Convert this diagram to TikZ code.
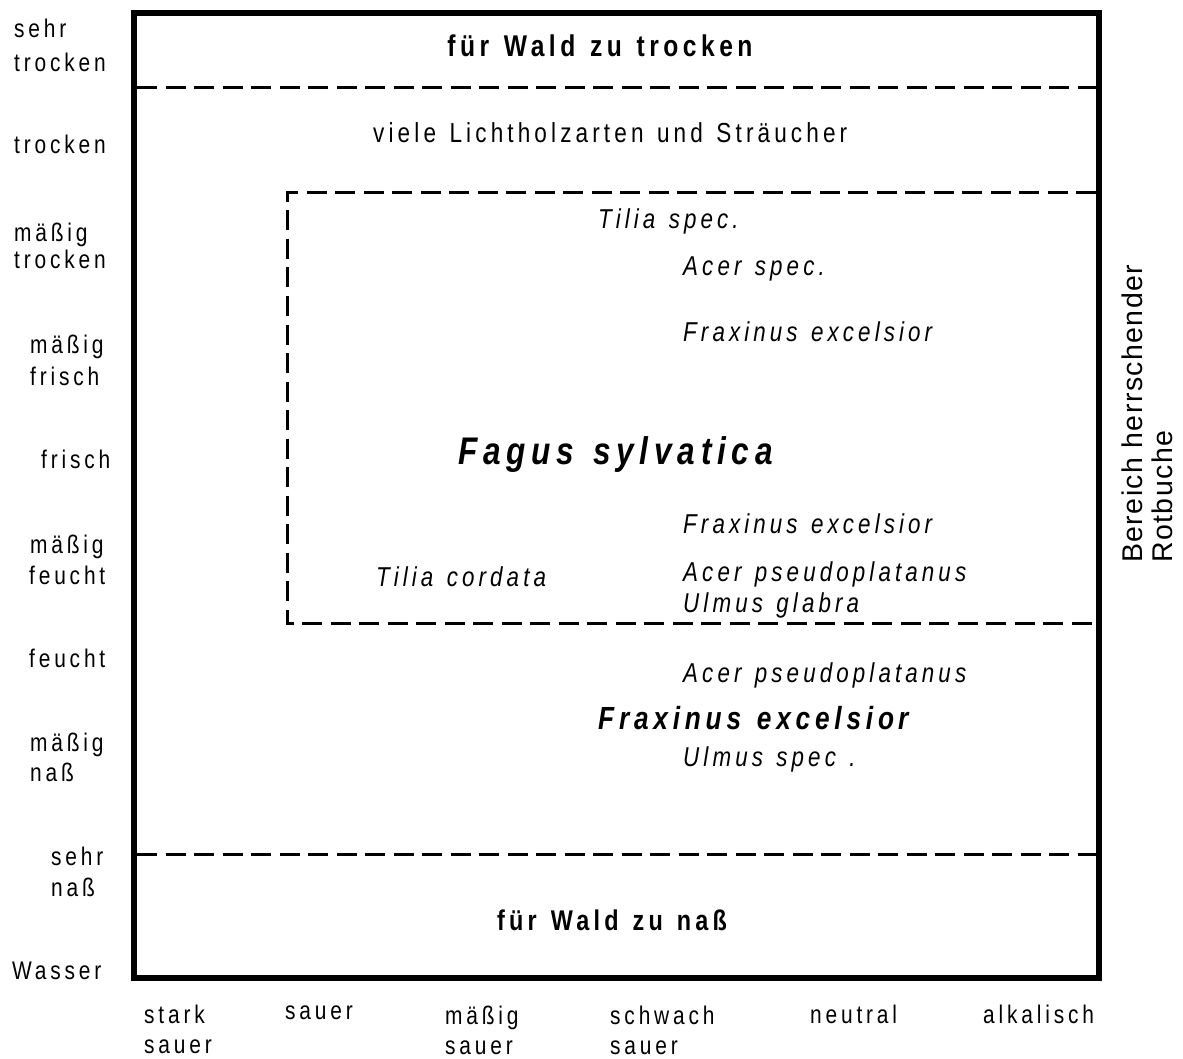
\documentclass[tikz,border=0pt]{standalone}
\usepackage{fontspec}
\setmainfont[FakeStretch=0.82, LetterSpace=15, WordSpace=1.3]{Liberation Sans}
\newfontfamily\rightfont[LetterSpace=5]{Liberation Sans}
\begin{document}
\begin{tikzpicture}[x=1pt,y=-1pt,
  lbl/.style={anchor=base west, inner sep=0pt, font=\fontsize{25.5}{30}\selectfont},
  spec/.style={anchor=base west, inner sep=0pt, font=\fontsize{27.3}{31}\selectfont\itshape},
  head/.style={anchor=base, inner sep=0pt, font=\fontsize{28.5}{32}\selectfont\bfseries},
  big/.style={anchor=base west, inner sep=0pt, font=\fontsize{38.5}{42}\selectfont\bfseries\itshape},
  mid/.style={anchor=base west, inner sep=0pt, font=\fontsize{32}{36}\selectfont\bfseries\itshape},
  rlbl/.style={anchor=base west, inner sep=0pt, rotate=90, font=\fontsize{28.5}{32}\rightfont},
  frame/.style={line width=6pt},
  zone/.style={line width=3pt, dash pattern=on 20pt off 8.5pt}]
\useasboundingbox (0,0) rectangle (1183,1059);
% frame
\draw[frame] (134,13) rectangle (1099,978);
% dashed zone lines
\coordinate (d1a) at (137,88);   \coordinate (d1b) at (1096,88);
\coordinate (d2a) at (137,854);  \coordinate (d2b) at (1096,854);
\coordinate (i1) at (1096,193); \coordinate (i2) at (287,193);
\coordinate (i3) at (287,623);  \coordinate (i4) at (1096,623);
\draw[zone] (d1a) -- (d1b);
\draw[zone] (d2a) -- (d2b);
\draw[zone] (i1) -- (i2) -- (i3) -- (i4);
% left labels
\node[lbl] (l1a) at (14,38) {sehr};
\node[lbl] (l1b) at (14,72) {trocken};
\node[lbl] (l2) at (14,154) {trocken};
\node[lbl] (l3a) at (14,242) {mäßig};
\node[lbl] (l3b) at (14,269) {trocken};
\node[lbl] (l4a) at (30,353) {mäßig};
\node[lbl] (l4b) at (30,385) {frisch};
\node[lbl] (l5) at (41,468) {frisch};
\node[lbl] (l6a) at (30,553) {mäßig};
\node[lbl] (l6b) at (29,584) {feucht};
\node[lbl] (l7) at (29,667) {feucht};
\node[lbl] (l8a) at (30,751) {mäßig};
\node[lbl] (l8b) at (30,781) {naß};
\node[lbl] (l9a) at (51,865) {sehr};
\node[lbl] (l9b) at (51,896) {naß};
\node[lbl] (l10) at (12,979) {Wasser};
% bottom labels
\node[lbl] (b1a) at (144,1023) {stark};
\node[lbl] (b1b) at (144,1053) {sauer};
\node[lbl] (b2) at (285,1019) {sauer};
\node[lbl] (b3a) at (445,1024) {mäßig};
\node[lbl] (b3b) at (445,1054) {sauer};
\node[lbl] (b4a) at (610,1024) {schwach};
\node[lbl] (b4b) at (610,1054) {sauer};
\node[lbl] (b5) at (810,1023) {neutral};
\node[lbl] (b6) at (983,1023) {alkalisch};
% zone texts
\node[head, font=\fontsize{30}{34}\selectfont\bfseries] (t1) at (600,57) {für Wald zu trocken};
\node[spec, font=\fontsize{27.5}{31}\selectfont] (t2) at (373,143) {viele Lichtholzarten und Sträucher};
\node[head] (t3) at (612,930) {für Wald zu naß};
% species
\node[spec] (s1) at (598,229) {Tilia spec.};
\node[spec] (s2) at (683,276) {Acer spec.};
\node[spec] (s3) at (683,341) {Fraxinus excelsior};
\node[big]  (s4) at (458,464) {Fagus sylvatica};
\node[spec] (s5) at (683,533) {Fraxinus excelsior};
\node[spec] (s6) at (376,586) {Tilia cordata};
\node[spec] (s7) at (683,581) {Acer pseudoplatanus};
\node[spec] (s8) at (683,612) {Ulmus glabra};
\node[spec] (s9) at (683,682) {Acer pseudoplatanus};
\node[mid]  (s10) at (598,729) {Fraxinus excelsio\kern4pt r};
\node[spec] (s11) at (683,766) {Ulmus spec .};
% right label
\node[rlbl] (r1) at (1142,563) {Bereich herrschender};
\node[rlbl] (r2) at (1172,563) {Rotbuche};
\end{tikzpicture}
\end{document}
